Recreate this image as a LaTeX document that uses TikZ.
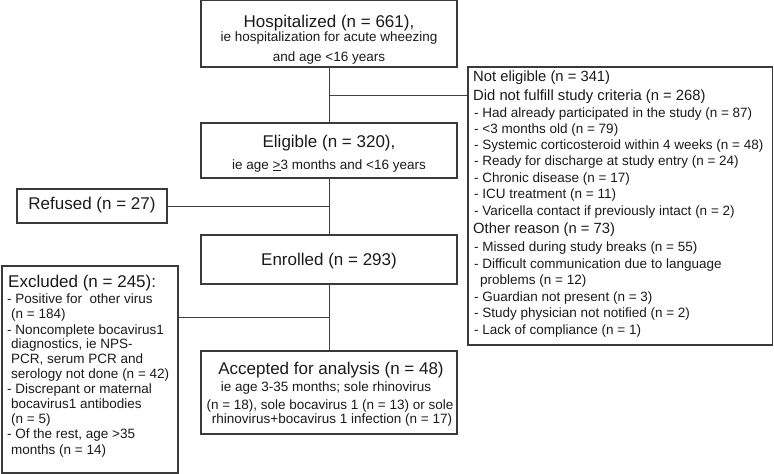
\documentclass[tikz,border=0pt]{standalone}
\usepackage{fontspec}
\setmainfont{Liberation Sans}
\definecolor{boxc}{HTML}{3A3A3A}
\definecolor{linec}{HTML}{404040}
\definecolor{txt}{HTML}{1A1A1A}
\begin{document}
\begin{tikzpicture}[x=1pt,y=-1pt,
  box/.style={draw=boxc, line width=1.1pt, inner sep=0pt, rectangle},
  conn/.style={draw=linec, line width=1pt},
  big/.style={font=\fontsize{17}{20}\selectfont, inner sep=0pt, text=txt},
  mid/.style={font=\fontsize{14.8}{17}\selectfont, inner sep=0pt, text=txt},
  sm/.style={font=\fontsize{13.5}{15}\selectfont, inner sep=0pt, text=txt},
  ctr/.style={anchor=base},
  lft/.style={anchor=base west}]
\useasboundingbox (0,0) rectangle (774,474);

% boxes
\node[box, minimum width=256pt, minimum height=66.5pt] (hosp) at (329,33.75) {};
\node[box, minimum width=256pt, minimum height=55pt] (elig) at (329,150.5) {};
\node[box, minimum width=256pt, minimum height=49pt] (enr) at (329,259.5) {};
\node[box, minimum width=256pt, minimum height=83pt] (acc) at (329,392.5) {};
\node[box, minimum width=150pt, minimum height=34pt] (ref) at (92,206) {};
\node[box, minimum width=304.5pt, minimum height=278pt] (ne) at (620.25,206) {};
\node[box, minimum width=176pt, minimum height=207pt] (excl) at (90,369.5) {};

% connectors
\coordinate (j1) at (329,95);
\coordinate (j3) at (329,317);
\draw[conn] (hosp.south) -- (elig.north);
\draw[conn] (j1) -- (j1 -| ne.west);
\draw[conn] (elig.south) -- (enr.north);
\draw[conn] (ref.east) -- (ref.east -| elig.south);
\draw[conn] (enr.south) -- (acc.north);
\draw[conn] (j3) -- (j3 -| excl.east);

% Hospitalized
\node[big,ctr] (h1) at (329,27.5) {Hospitalized (n = 661),};
\node[sm,ctr] (h2) at (329,41.5) {ie hospitalization for acute wheezing};
\node[sm,ctr] (h3) at (329,61) {and age <16 years};
% Eligible
\node[big,ctr] (e1) at (329,147.5) {Eligible (n = 320),};
\node[sm,ctr] (e2) at (329,169) {ie age \underline{>}3 months and <16 years};
% Enrolled
\node[big,ctr] (n1) at (329,265) {Enrolled (n = 293)};
% Refused
\node[big,ctr] (r1) at (92,209.5) {Refused (n = 27)};
% Accepted
\node[big,ctr] (a1) at (331,374) {Accepted for analysis (n = 48)};
\node[sm,ctr] (a2) at (326,391.5) {ie age 3-35 months; sole rhinovirus};
\node[sm,ctr] (a3) at (330,409) {(n = 18), sole bocavirus 1 (n = 13) or sole};
\node[sm,ctr] (a4) at (332,423.5) {rhinovirus+bocavirus 1 infection (n = 17)};

% Not eligible
\node[mid,lft] (ne1) at (473,81.5) {Not eligible (n = 341)};
\node[mid,lft] (ne2) at (473,100.5) {Did not fulfill study criteria (n = 268)};
\node[sm,lft] (ne3) at (474,117) {- Had already participated in the study (n = 87)};
\node[sm,lft] (ne4) at (474,133) {- <3 months old (n = 79)};
\node[sm,lft] (ne5) at (474,149) {- Systemic corticosteroid within 4 weeks (n = 48)};
\node[sm,lft] (ne6) at (474,165.5) {- Ready for discharge at study entry (n = 24)};
\node[sm,lft] (ne7) at (474,182) {- Chronic disease (n = 17)};
\node[sm,lft] (ne8) at (474,198.5) {- ICU treatment (n = 11)};
\node[sm,lft] (ne9) at (474,215) {- Varicella contact if previously intact (n = 2)};
\node[mid,lft] (ne10) at (473,233.5) {Other reason (n = 73)};
\node[sm,lft] (ne11) at (474,251) {- Missed during study breaks (n = 55)};
\node[sm,lft] (ne12) at (474,268) {- Difficult communication due to language};
\node[sm,lft] (ne13) at (480,284.5) {problems (n = 12)};
\node[sm,lft] (ne14) at (474,301) {- Guardian not present (n = 3)};
\node[sm,lft] (ne15) at (474,317.5) {- Study physician not notified (n = 2)};
\node[sm,lft] (ne16) at (474,334) {- Lack of compliance (n = 1)};

% Excluded
\node[big,lft] (x1) at (8,287.5) {Excluded (n = 245):};
\node[sm,lft] (x2) at (7,303.5) {- Positive for~ other virus};
\node[sm,lft] (x3) at (11,318) {(n = 184)};
\node[sm,lft] (x4) at (7,334) {- Noncomplete bocavirus1};
\node[sm,lft] (x5) at (11,348.5) {diagnostics, ie NPS-};
\node[sm,lft] (x6) at (11,363) {PCR, serum PCR and};
\node[sm,lft] (x7) at (11,378.5) {serology not done (n = 42)};
\node[sm,lft] (x8) at (7,393.5) {- Discrepant or maternal};
\node[sm,lft] (x9) at (11,408.5) {bocavirus1 antibodies};
\node[sm,lft] (x10) at (11,423.5) {(n = 5)};
\node[sm,lft] (x11) at (7,438.5) {- Of the rest, age >35};
\node[sm,lft] (x12) at (11,454) {months (n = 14)};
\end{tikzpicture}
\end{document}
